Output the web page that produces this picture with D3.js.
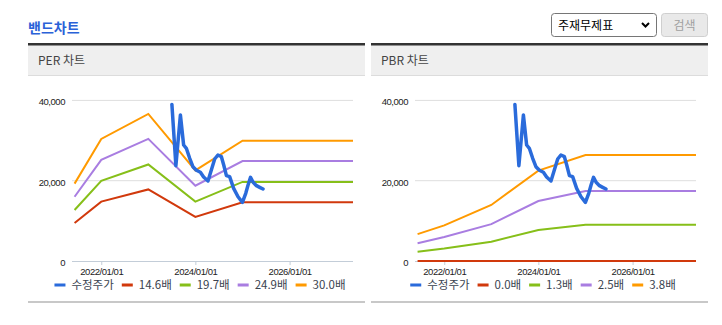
<!DOCTYPE html>
<html><head><meta charset="utf-8">
<script src="https://cdn.jsdelivr.net/npm/d3@7"></script>
<style>
html,body{margin:0;padding:0;background:#fff;}
body{width:722px;height:325px;overflow:hidden;}
svg{display:block;}
</style></head>
<body>
<svg id="c" width="722" height="325"></svg>
<script>
// ---------------- data ----------------
const title = "밴드차트";
const selectText = "주재무제표";
const buttonText = "검색";
const panelTitles = ["PER 차트", "PBR 차트"];
const priceLabel = "수정주가";

const bandDates = ["2021-06-08", "2022-01-01", "2023-01-01", "2024-01-01", "2025-01-01", "2027-05-08"];

const perLabels = ["14.6배", "19.7배", "24.9배", "30.0배"];
const per146 = [9450, 14790, 17830, 10980, 14610, 14610];
const per197 = [12690, 19950, 24050, 14800, 19700, 19700];
const per249 = [16010, 25200, 30420, 18740, 24880, 24880];
const per300 = [19270, 30390, 36620, 22570, 29950, 29950];

const pbrLabels = ["0.0배", "1.3배", "2.5배", "3.8배"];
const pbr00 = [0, 0, 0, 0, 0, 0];
const pbr13 = [2320, 3100, 4820, 7720, 9040, 9040];
const pbr25 = [4440, 5970, 9180, 14940, 17430, 17430];
const pbr38 = [6690, 8880, 13950, 22500, 26400, 26400];

const priceDates = ["2023-07-03", "2023-08-03", "2023-09-07", "2023-10-02", "2023-10-23", "2023-11-18",
  "2023-12-13", "2024-01-09", "2024-02-09", "2024-03-05", "2024-04-08", "2024-05-04", "2024-05-30",
  "2024-06-24", "2024-07-21", "2024-08-08", "2024-08-29", "2024-09-23", "2024-10-24", "2024-11-27",
  "2024-12-31", "2025-01-26", "2025-02-13", "2025-03-04", "2025-03-24", "2025-04-19", "2025-05-14", "2025-06-09"];
const priceValues = [39000, 23740, 36360, 28890, 28070, 25580, 23490, 22590, 22090, 20920, 19930, 22660, 25400,
  26400, 25980, 23910, 21250, 21000, 18100, 16010, 14620, 16860, 18930, 20840, 19600, 18760, 18350, 17930];

const yTicks = [0, 20000, 40000];
const xTicks = ["2022-01-01", "2024-01-01", "2026-01-01"];
const xDomain = ["2021-05-19", "2027-05-08"];

const bandColors = ["#d1390c", "#86bf19", "#a97de1", "#ff9a00"];
const priceColor = "#2a6bdb";

// ---------------- drawing ----------------
const parse = d3.timeParse("%Y-%m-%d");
const svg = d3.select("#c");
const KR = "'Noto Sans CJK KR','Liberation Sans',sans-serif";
const LAT = "'Liberation Sans','Noto Sans CJK KR',sans-serif";

// page title
svg.append("text").attr("x", 28).attr("y", 33).text(title)
  .attr("font-family", KR).attr("font-size", 14).attr("font-weight", "bold").attr("fill", "#2a62d8");

// select box
const sel = svg.append("g");
sel.append("rect").attr("x", 551.5).attr("y", 13.5).attr("width", 105).attr("height", 23).attr("rx", 3)
  .attr("fill", "#fff").attr("stroke", "#767676");
sel.append("text").attr("x", 558).attr("y", 29.5).text(selectText)
  .attr("font-family", KR).attr("font-size", 12).attr("fill", "#000");
sel.append("path").attr("d", "M642,23 L645.5,26.5 L649,23").attr("fill", "none")
  .attr("stroke", "#000").attr("stroke-width", 2);
const btn = svg.append("g");
btn.append("rect").attr("x", 661.5).attr("y", 13.5).attr("width", 46).attr("height", 23).attr("rx", 3)
  .attr("fill", "#e9e9e9").attr("stroke", "#cfcfcf");
btn.append("text").attr("x", 684.5).attr("y", 29.5).attr("text-anchor", "middle").text(buttonText)
  .attr("font-family", KR).attr("font-size", 12).attr("fill", "#a0a0a0");

function drawPanel(pl, headerText, bands, labels) {
  const g = svg.append("g");
  const pw = 337;
  // header
  g.append("rect").attr("x", pl).attr("y", 45).attr("width", pw).attr("height", 31).attr("fill", "#efefef");
  g.append("rect").attr("x", pl).attr("y", 43).attr("width", pw).attr("height", 2.5).attr("fill", "#333");
  g.append("rect").attr("x", pl).attr("y", 75).attr("width", pw).attr("height", 1).attr("fill", "#dcdcdc");
  g.append("text").attr("x", pl + 10).attr("y", 65).text(headerText)
    .attr("font-family", KR).attr("font-size", 12).attr("fill", "#444");
  // bottom line
  g.append("rect").attr("x", pl).attr("y", 301).attr("width", pw).attr("height", 2).attr("fill", "#c8c8c8");

  const x = d3.scaleTime().domain(xDomain.map(parse)).range([pl + 44, pl + 325]);
  const y = d3.scaleLinear().domain([0, 40000]).range([261, 100.4]);

  // grid
  g.append("g").selectAll("line").data(yTicks.filter(v => v > 0)).join("line")
    .attr("x1", pl + 44).attr("x2", pl + 325).attr("y1", d => y(d)).attr("y2", d => y(d))
    .attr("stroke", "#dedede").attr("stroke-width", 1);
  // y labels
  g.append("g").selectAll("text").data(yTicks).join("text")
    .attr("x", pl + 37).attr("y", d => y(d) + 5).attr("text-anchor", "end")
    .text(d => d3.format(",")(d))
    .attr("font-family", LAT).attr("font-size", 9.5).attr("letter-spacing", -0.45).attr("fill", "#222");
  // x axis
  const xa = g.append("g").attr("transform", `translate(0,${y(0)})`)
    .call(d3.axisBottom(x).tickValues(xTicks.map(parse)).tickSize(4).tickPadding(3)
      .tickFormat(d3.timeFormat("%Y/%m/%d")));
  xa.select(".domain").attr("stroke", "#c3cdd8").attr("d", `M${pl + 44},0.5H${pl + 325}`);
  xa.selectAll(".tick line").attr("stroke", "#c3cdd8");
  xa.selectAll(".tick text").attr("font-family", LAT).attr("font-size", 9.5)
    .attr("letter-spacing", -0.45).attr("fill", "#222");

  const line = d3.line().x(d => x(d[0])).y(d => y(d[1]));
  bands.forEach((vals, i) => {
    g.append("path").datum(bandDates.map((d, k) => [parse(d), vals[k]]))
      .attr("d", line).attr("fill", "none").attr("stroke", bandColors[i]).attr("stroke-width", 2);
  });
  g.append("path").datum(priceDates.map((d, k) => [parse(d), priceValues[k]]))
    .attr("d", line).attr("fill", "none").attr("stroke", priceColor).attr("stroke-width", 3.5)
    .attr("stroke-linejoin", "round").attr("stroke-linecap", "round");

  // legend
  const items = [{ label: priceLabel, color: priceColor }].concat(labels.map((l, i) => ({ label: l, color: bandColors[i] })));
  const lg = g.append("g");
  const ly = 285;
  const nodes = items.map(it => {
    const t = lg.append("text").text(it.label).attr("y", ly + 4.3)
      .attr("font-family", KR).attr("font-size", 11.5).attr("fill", "#3a4350");
    return { it, t, w: t.node().getComputedTextLength() };
  });
  const total = nodes.reduce((s, n) => s + 11 + 6 + n.w, 0) + 8 * (nodes.length - 1);
  let cx = pl + 172 - total / 2;
  nodes.forEach(n => {
    lg.append("rect").attr("x", cx).attr("y", ly - 1.5).attr("width", 11).attr("height", 3).attr("fill", n.it.color);
    n.t.attr("x", cx + 17);
    cx += 17 + n.w + 8;
  });
}

drawPanel(28, panelTitles[0], [per146, per197, per249, per300], perLabels);
drawPanel(371, panelTitles[1], [pbr00, pbr13, pbr25, pbr38], pbrLabels);
</script>
</body></html>
